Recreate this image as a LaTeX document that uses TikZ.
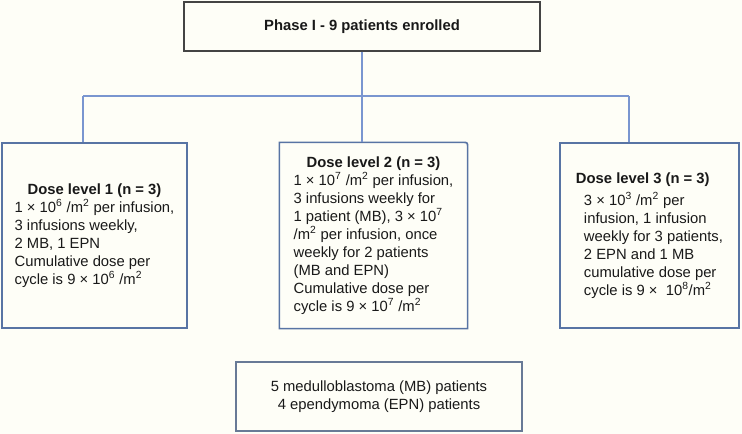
\documentclass[tikz,border=0pt]{standalone}
\usepackage{fontspec}
\setmainfont{Liberation Sans}
\usetikzlibrary{calc}

\definecolor{paper}{RGB}{254,254,247}
\definecolor{topgray}{RGB}{68,68,68}
\definecolor{linkblue}{RGB}{122,150,208}
\definecolor{doseblue}{RGB}{88,116,164}
\definecolor{notegray}{RGB}{104,122,150}

\tikzset{every picture/.style={line width=0.75pt},
  textfont/.style={font=\fontsize{11.1}{13.5}\selectfont, text=black!90},
  phasebox/.style={textfont, draw=topgray, line width=1.1pt, inner sep=0pt,
    minimum width=267pt, minimum height=36.75pt},
  dosebox/.style={textfont, draw=doseblue, line width=0.9pt, inner sep=0pt,
    minimum height=138.75pt},
  notebox/.style={textfont, draw=notegray, line width=0.9pt, inner sep=0pt,
    minimum width=214.5pt, minimum height=51.75pt, align=center},
  link/.style={draw=linkblue, line width=1.1pt}}

\begin{document}
\begin{tikzpicture}[x=0.75pt,y=0.75pt,yscale=-1,xscale=1]
    \useasboundingbox (0,0) rectangle (742,434);
    \fill [paper] (0,0) rectangle (742,434);

    %Shape: Rectangle [id:phase]
    \node [phasebox] (phase) at (362,26.5) {\textbf{Phase I - 9 patients enrolled}};

    %Shape: Rectangle [id:dl1]
    \node [dosebox, minimum width=138.75pt] (dl1) at (94.5,235.5) {\begin{tabular}{@{}l@{}}
      \multicolumn{1}{@{}c@{}}{\textbf{Dose level 1 (n = 3)}}\\
      1 × 10\textsuperscript{6} /m\textsuperscript{2} per infusion,\\
      3 infusions weekly,\\
      2 MB, 1 EPN\\
      Cumulative dose per\\
      cycle is 9 × 10\textsuperscript{6} /m\textsuperscript{2}
    \end{tabular}};

    %Shape: Rectangle [id:dl2] (top right corner rounded)
    \node [dosebox, draw=none, minimum width=140.25pt] (dl2) at (373.5,235.5) {\begin{tabular}{@{}l@{}}
      \multicolumn{1}{@{}c@{}}{\textbf{Dose level 2 (n = 3)}}\\
      1 × 10\textsuperscript{7} /m\textsuperscript{2} per infusion,\\
      3 infusions weekly for\\
      1 patient (MB), 3 × 10\textsuperscript{7}\\
      /m\textsuperscript{2} per infusion, once\\
      weekly for 2 patients\\
      (MB and EPN)\\
      Cumulative dose per\\
      cycle is 9 × 10\textsuperscript{7} /m\textsuperscript{2}
    \end{tabular}};
    \draw [draw=doseblue, line width=1.2pt] (dl2.south west) -- (dl2.north west) -- ($(dl2.north east)+(-5,0)$)
      .. controls (dl2.north east) .. ($(dl2.north east)+(0,5)$) -- (dl2.south east) -- cycle;

    %Shape: Rectangle [id:dl3]
    \node [dosebox, minimum width=134.25pt] (dl3) at (649.5,235.5) {\begin{tabular}{@{\hspace{6pt}}l@{}}
      \multicolumn{1}{@{}l@{}}{\textbf{Dose level 3 (n = 3)}}\\[3pt]
      3 × 10\textsuperscript{3} /m\textsuperscript{2} per\\
      infusion, 1 infusion\\
      weekly for 3 patients,\\
      2 EPN and 1 MB\\
      cumulative dose per\\
      cycle is 9 ×\ \ 10\textsuperscript{8}/m\textsuperscript{2}
    \end{tabular}};

    %Shape: Rectangle [id:note]
    \node [notebox] (note) at (379,396.5) {5 medulloblastoma (MB) patients\\4 ependymoma (EPN) patients};

    %Straight Lines [id:links]
    \coordinate (jl) at (83,96);
    \coordinate (jm) at (362,96);
    \coordinate (jr) at (629,96);
    \draw [link] (phase.south) -- (jm);
    \draw [link] (jl) -- (jr);
    \draw [link] (jl) -- (jl |- dl1.north);
    \draw [link] (jm) -- (jm |- dl2.north);
    \draw [link] (jr) -- (jr |- dl3.north);

\end{tikzpicture}
\end{document}
